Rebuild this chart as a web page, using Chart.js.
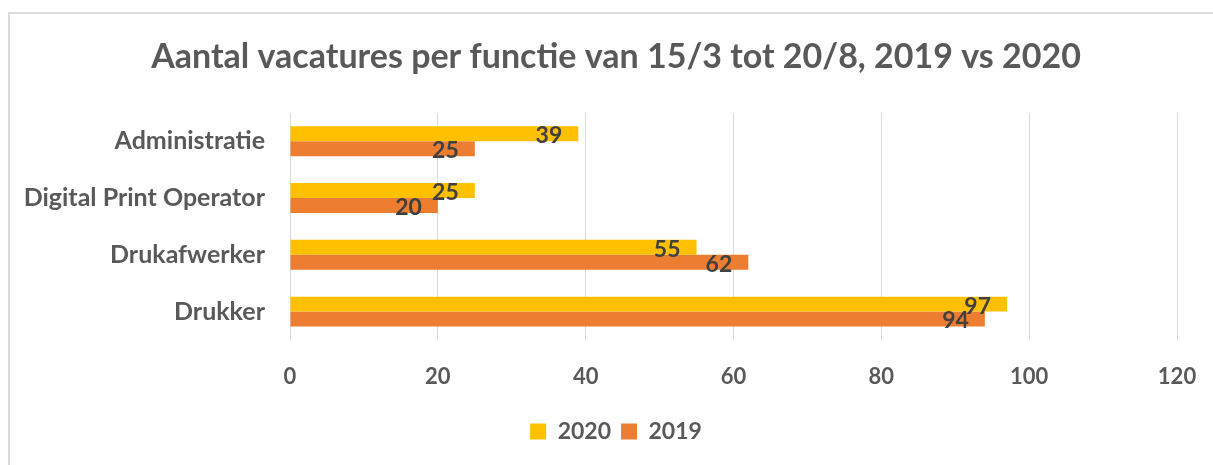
<!DOCTYPE html>
<html>
<head>
<meta charset="utf-8">
<script src="https://cdn.jsdelivr.net/npm/chart.js@4"></script>
<style>
  html, body { margin: 0; padding: 0; background: #fff; }
  #wrap { position: relative; width: 1213px; height: 465px; overflow: hidden; }
  #frame { position: absolute; left: 8px; top: 12px; width: 1230px; height: 480px; border: 2px solid #dcdcdc; box-sizing: border-box; }
  #plotGraph { position: absolute; left: 0; top: 0; }
</style>
</head>
<body>
<div id="wrap">
  <div id="frame"></div>
  <canvas id="plotGraph" width="1213" height="465"></canvas>
</div>
<script>
// data
const functies = ["Administratie", "Digital Print Operator", "Drukafwerker", "Drukker"]
const jaar2020 = [39, 25, 55, 97]
const jaar2019 = [25, 20, 62, 94]
const xTicks = [0, 20, 40, 60, 80, 100, 120]

const fontName = "Lato, 'Open Sans', sans-serif"
const grey = "#595959"

// labels at the inside end of each bar
const valueLabels = {
  id: "valueLabels",
  afterDatasetsDraw(chart) {
    let ctx = chart.ctx
    ctx.save()
    ctx.font = "bold 23px " + fontName
    ctx.fillStyle = "#404040"
    ctx.textAlign = "right"
    ctx.textBaseline = "middle"
    chart.data.datasets.forEach((ds, i) => {
      let meta = chart.getDatasetMeta(i)
      meta.data.forEach((bar, j) => {
        ctx.fillText(String(ds.data[j]), bar.x - 16, bar.y + 2)
      })
    })
    ctx.restore()
  }
}

let mainData = {
  labels: functies,
  datasets: [
    {
      label: "2020",
      data: jaar2020,
      backgroundColor: "#FFC000",
      borderWidth: 0,
      categoryPercentage: 0.526,
      barPercentage: 1.0
    },
    {
      label: "2019",
      data: jaar2019,
      backgroundColor: "#ED7D31",
      borderWidth: 0,
      categoryPercentage: 0.526,
      barPercentage: 1.0
    }
  ]
}

let mainOptions = {
  indexAxis: "y",
  responsive: false,
  animation: false,
  layout: { padding: { left: 19, right: 0, top: 0, bottom: 12 } },
  plugins: {
    title: {
      display: true,
      text: "Aantal vacatures per functie van 15/3 tot 20/8, 2019 vs 2020",
      color: grey,
      font: { family: fontName, size: 34, weight: "bold" },
      padding: { top: 37, bottom: 35 }
    },
    legend: {
      position: "bottom",
      labels: {
        color: grey,
        font: { family: fontName, size: 23, weight: "bold" },
        boxWidth: 16,
        boxHeight: 16,
        padding: 10
      }
    },
    tooltip: { enabled: false }
  },
  scales: {
    x: {
      min: 0,
      max: 120,
      afterBuildTicks(scale) {
        scale.ticks = xTicks.map(v => ({ value: v }))
      },
      afterFit(scale) {
        scale.height = 70
        scale.paddingLeft = 0
        scale.paddingRight = 36
      },
      grid: { color: "#d9d9d9", lineWidth: 1, drawTicks: false },
      border: { display: false },
      ticks: {
        color: grey,
        padding: 24,
        font: { family: fontName, size: 22, weight: "bold" }
      }
    },
    y: {
      afterFit(scale) { scale.width = 271 },
      grid: { display: false, drawTicks: false },
      border: { display: false },
      ticks: {
        color: grey,
        padding: 25,
        font: { family: fontName, size: 25, weight: "bold" }
      }
    }
  }
}

let mainCtx = document.getElementById("plotGraph")
let mainChartObj = new Chart(mainCtx, {
  type: "bar",
  data: mainData,
  options: mainOptions,
  plugins: [valueLabels]
})
</script>
</body>
</html>
